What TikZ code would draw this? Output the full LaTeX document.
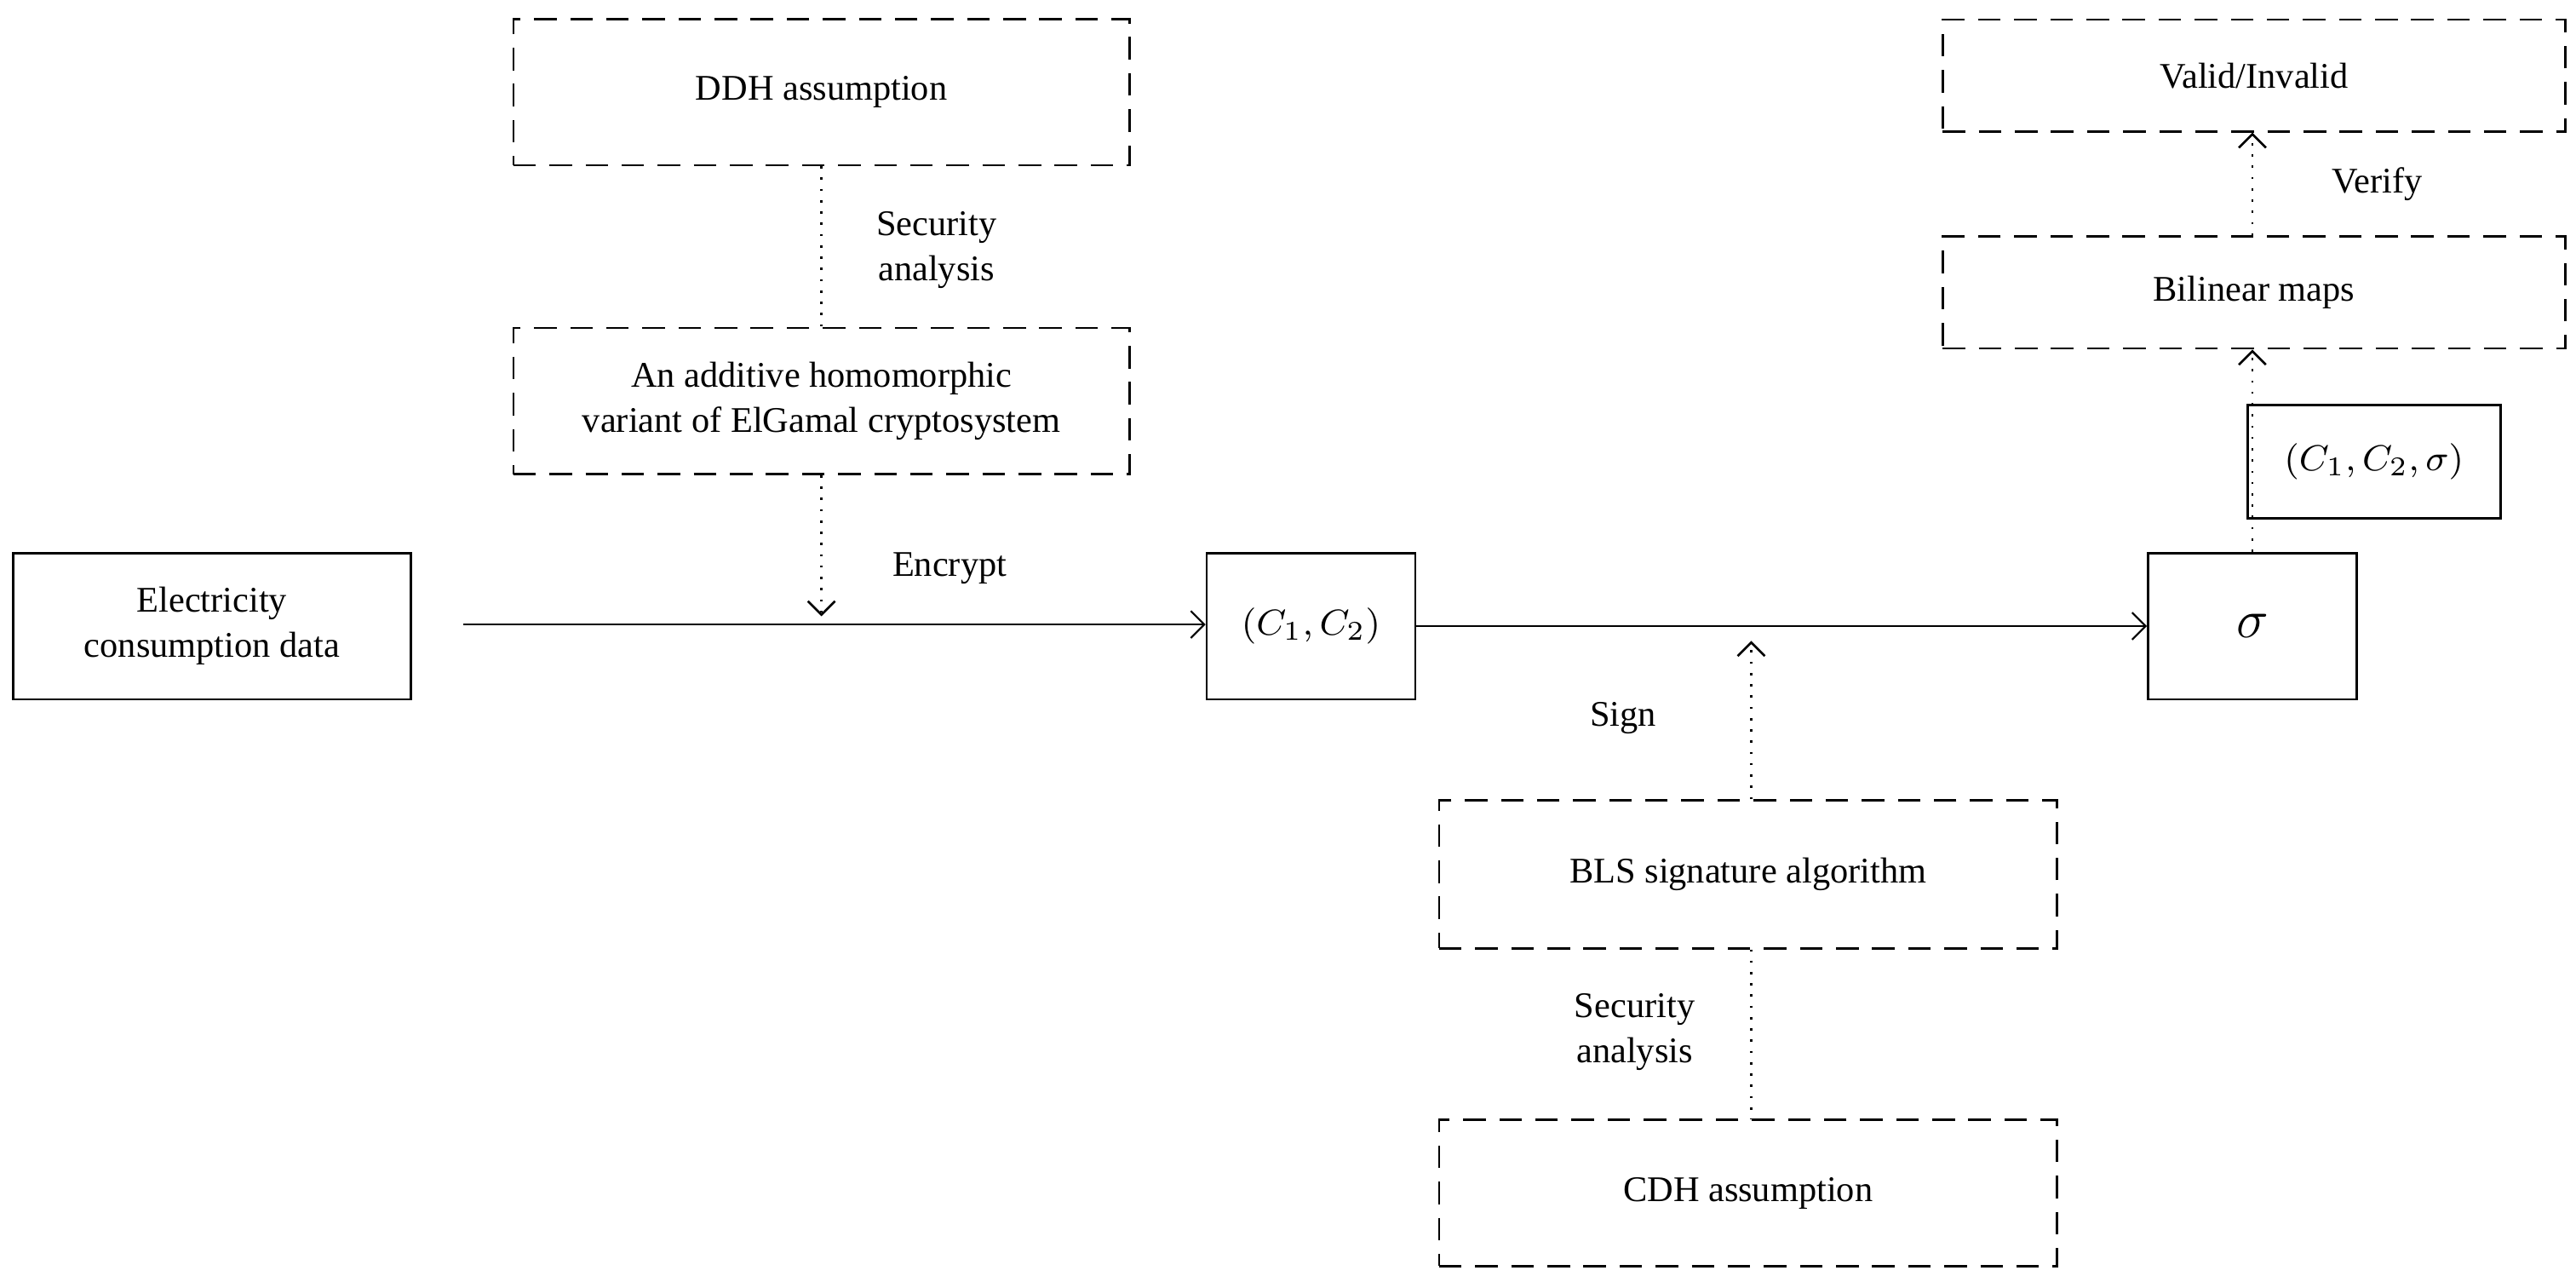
\documentclass[tikz,border=0pt]{standalone}
\usepackage{fontspec}
\setmainfont{Liberation Serif}
\usetikzlibrary{arrows.meta}
\begin{document}
\begin{tikzpicture}[x=0.0128cm, y=-0.0128cm,
    box/.style={draw, line width=0.5pt, align=center, font=\fontsize{8}{10}\selectfont},
    dbox/.style={box, dash pattern=on 5pt off 3pt},
    lbl/.style={align=center, font=\fontsize{8}{10}\selectfont},
    arr/.style={-{Straight Barb[length=3pt]}, line width=0.4pt},
    dot/.style={dotted, line width=0.5pt},
    darr/.style={dot, -{Straight Barb[length=3pt]}}]
  \useasboundingbox (0,0) rectangle (1568,780);
  \node[box, minimum width=242*0.0128cm, minimum height=89*0.0128cm] (elec) at (129,381) {Electricity\\consumption data};
  \node[dbox, minimum width=375*0.0128cm, minimum height=89*0.0128cm] (ddh) at (500,56) {DDH assumption};
  \node[dbox, minimum width=375*0.0128cm, minimum height=89*0.0128cm] (elg) at (500,244) {An additive homomorphic\\variant of ElGamal cryptosystem};
  \node[box, minimum width=127*0.0128cm, minimum height=89*0.0128cm] (c12) at (798,381) {$(C_1,C_2)$};
  \node[box, minimum width=127*0.0128cm, minimum height=89*0.0128cm, font=\fontsize{13}{15}\selectfont] (sig) at (1371,381) {$\sigma$};
  \node[box, minimum width=154*0.0128cm, minimum height=69*0.0128cm] (tri) at (1445,281) {$(C_1,C_2,\sigma)$};
  \node[dbox, minimum width=379*0.0128cm, minimum height=68*0.0128cm] (valid) at (1372,46) {Valid/Invalid};
  \node[dbox, minimum width=379*0.0128cm, minimum height=68*0.0128cm] (bil) at (1372,178) {Bilinear maps};
  \node[dbox, minimum width=376*0.0128cm, minimum height=90*0.0128cm] (bls) at (1064,532) {BLS signature algorithm};
  \node[dbox, minimum width=376*0.0128cm, minimum height=89*0.0128cm] (cdh) at (1064,726) {CDH assumption};
  \coordinate (s) at (282,380);
  \coordinate (enc) at (500,375);
  \coordinate (sg) at (1066,390);
  \draw[arr] (s) -- (c12.west |- s);
  \draw[arr] (c12.east) -- (sig.west);
  \draw[dot] (ddh.south) -- (elg.north);
  \draw[darr] (elg.south) -- (enc);
  \draw[darr] (bls.north -| sg) -- (sg);
  \draw[dot] (bls.south -| sg) -- (cdh.north -| sg);
  \draw[darr] (sig.north) -- (bil.south -| sig.north);
  \draw[darr] (bil.north -| sig.north) -- (valid.south -| sig.north);
  \node[lbl] (l1) at (570,152) {Security\\analysis};
  \node[lbl] (l2) at (578,346) {Encrypt};
  \node[lbl] (l3) at (988,437) {Sign};
  \node[lbl] (l4) at (995,628) {Security\\analysis};
  \node[lbl] (l5) at (1447,112) {Verify};
\end{tikzpicture}
\end{document}
